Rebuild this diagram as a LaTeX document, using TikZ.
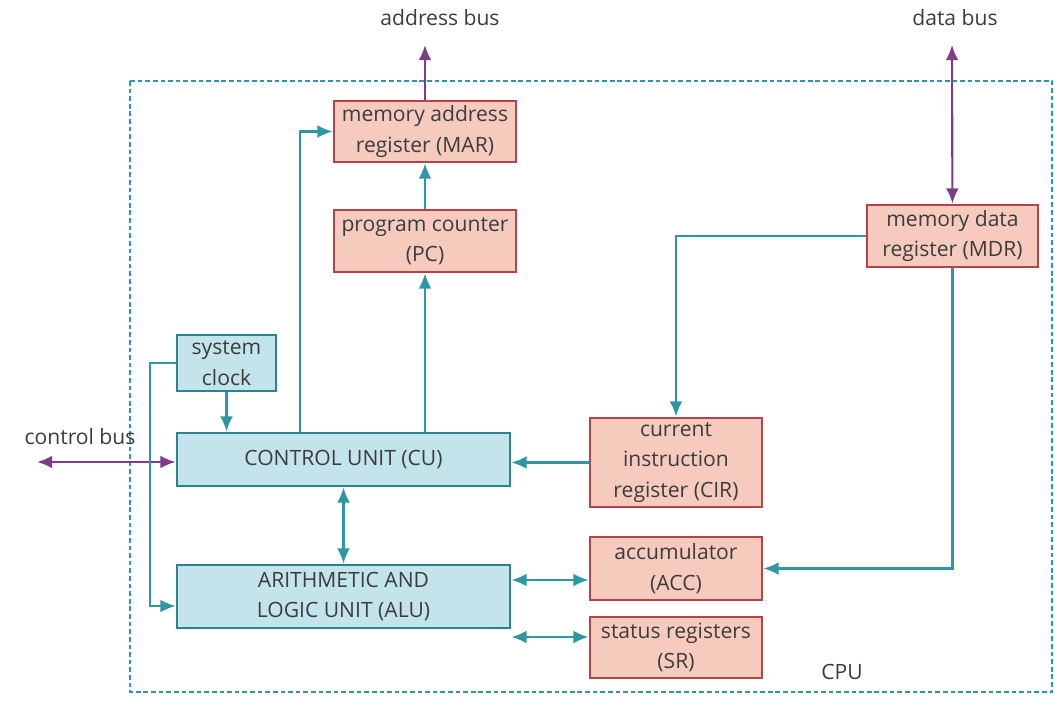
\documentclass[tikz,border=0pt]{standalone}
\usepackage{fontspec}
\setmainfont{Open Sans}
\usepackage{tikz}
\usetikzlibrary{arrows.meta}

\definecolor{tealline}{HTML}{2F96A3}
\definecolor{bluefill}{HTML}{C3E4EB}
\definecolor{blueedge}{HTML}{2C8290}
\definecolor{redfill}{HTML}{F6CABD}
\definecolor{rededge}{HTML}{B3444A}
\definecolor{busline}{HTML}{7D3C8C}
\definecolor{txt}{HTML}{3C3C3C}

\tikzset{
  unit/.style={draw=blueedge,fill=bluefill,line width=2.5pt,align=center,inner sep=0pt},
  reg/.style={draw=rededge,fill=redfill,line width=2.5pt,align=center,inner sep=0pt},
  link/.style={draw=tealline,line width=1.8pt},
  bus/.style={draw=busline,line width=1.8pt},
  lbl/.style={inner sep=0pt}
}

\begin{document}
\begin{tikzpicture}[x=0.3mm,y=-0.3mm,>={Latex[length=13pt,width=11pt]},
  font=\fontsize{18}{26}\selectfont,text=txt]
        \useasboundingbox (0,0) rectangle (1055,702);
        % CPU
        \draw[tealline,line width=1.5pt,dash pattern=on 4pt off 2.5pt] (130,81) rectangle (1052,692);
        \node[lbl] (cpu) at (842,672) {CPU};
        % nodi
        \node[reg,minimum width=54.6mm,minimum height=18.3mm] (MAR) at (425,131.5) {memory address\\register (MAR)};
        \node[reg,minimum width=54.6mm,minimum height=18.6mm] (PC)  at (425,241)   {program counter\\(PC)};
        \node[reg,minimum width=51.3mm,minimum height=18.6mm] (MDR) at (952.5,236) {memory data\\register (MDR)};
        \node[unit,minimum width=29.7mm,minimum height=16.8mm] (CLK) at (226.5,363) {system\\clock};
        \node[unit,minimum width=99.9mm,minimum height=15.9mm] (CU)  at (343.5,459.5) {CONTROL UNIT (CU)};
        \node[unit,minimum width=99.9mm,minimum height=18.9mm] (ALU) at (343.5,596.5) {ARITHMETIC AND\\LOGIC UNIT (ALU)};
        \node[reg,minimum width=51.6mm,minimum height=26.7mm] (CIR) at (676,462.5) {current\\instruction\\register (CIR)};
        \node[reg,minimum width=51.6mm,minimum height=18.9mm] (ACC) at (676,568.5) {accumulator\\(ACC)};
        \node[reg,minimum width=51.6mm,minimum height=18.3mm] (SR)  at (676,647.5) {status registers\\(SR)};
        % bus
        \node[lbl] (ab) at (440,18) {address bus};
        \node[lbl] (db) at (955,18) {data bus};
        \node[lbl] (cb) at (80,437) {control bus};
        \coordinate (abend) at (425,45);
        \coordinate (dbend) at (952,45);
        \coordinate (cbend) at (37,462);
        \draw[bus,->] (MAR) -- (abend);
        \draw[bus,<->] (dbend) -- (MDR);
        \draw[bus,<->] (cbend) -- (cbend -| CU.west);
        % archi
        \coordinate (k) at (150,606);
        \draw[link,->] (CLK) -- (CLK |- CU.north);
        \draw[link,->] (CLK.west) -| (k) -- (k -| ALU.west);
        \draw[link,->] (CU.north -| 300,0) |- (MAR.west);
        \draw[link,->] (CU.north -| PC.south) -- (PC.south);
        \draw[link,->] (PC) -- (MAR);
        \draw[link,<->] (CU) -- (ALU);
        \draw[link,->] (CIR.west) -- (CIR.west -| CU.east);
        \draw[link,->] (MDR.west) -| (CIR.north);
        \draw[link,->] (MDR.south) |- (ACC.east);
        \draw[link,<->] (ALU.east |- 0,580) -- (ACC.west |- 0,580);
        \draw[link,<->] (ALU.east |- 0,637) -- (SR.west |- 0,637);
\end{tikzpicture}
\end{document}
